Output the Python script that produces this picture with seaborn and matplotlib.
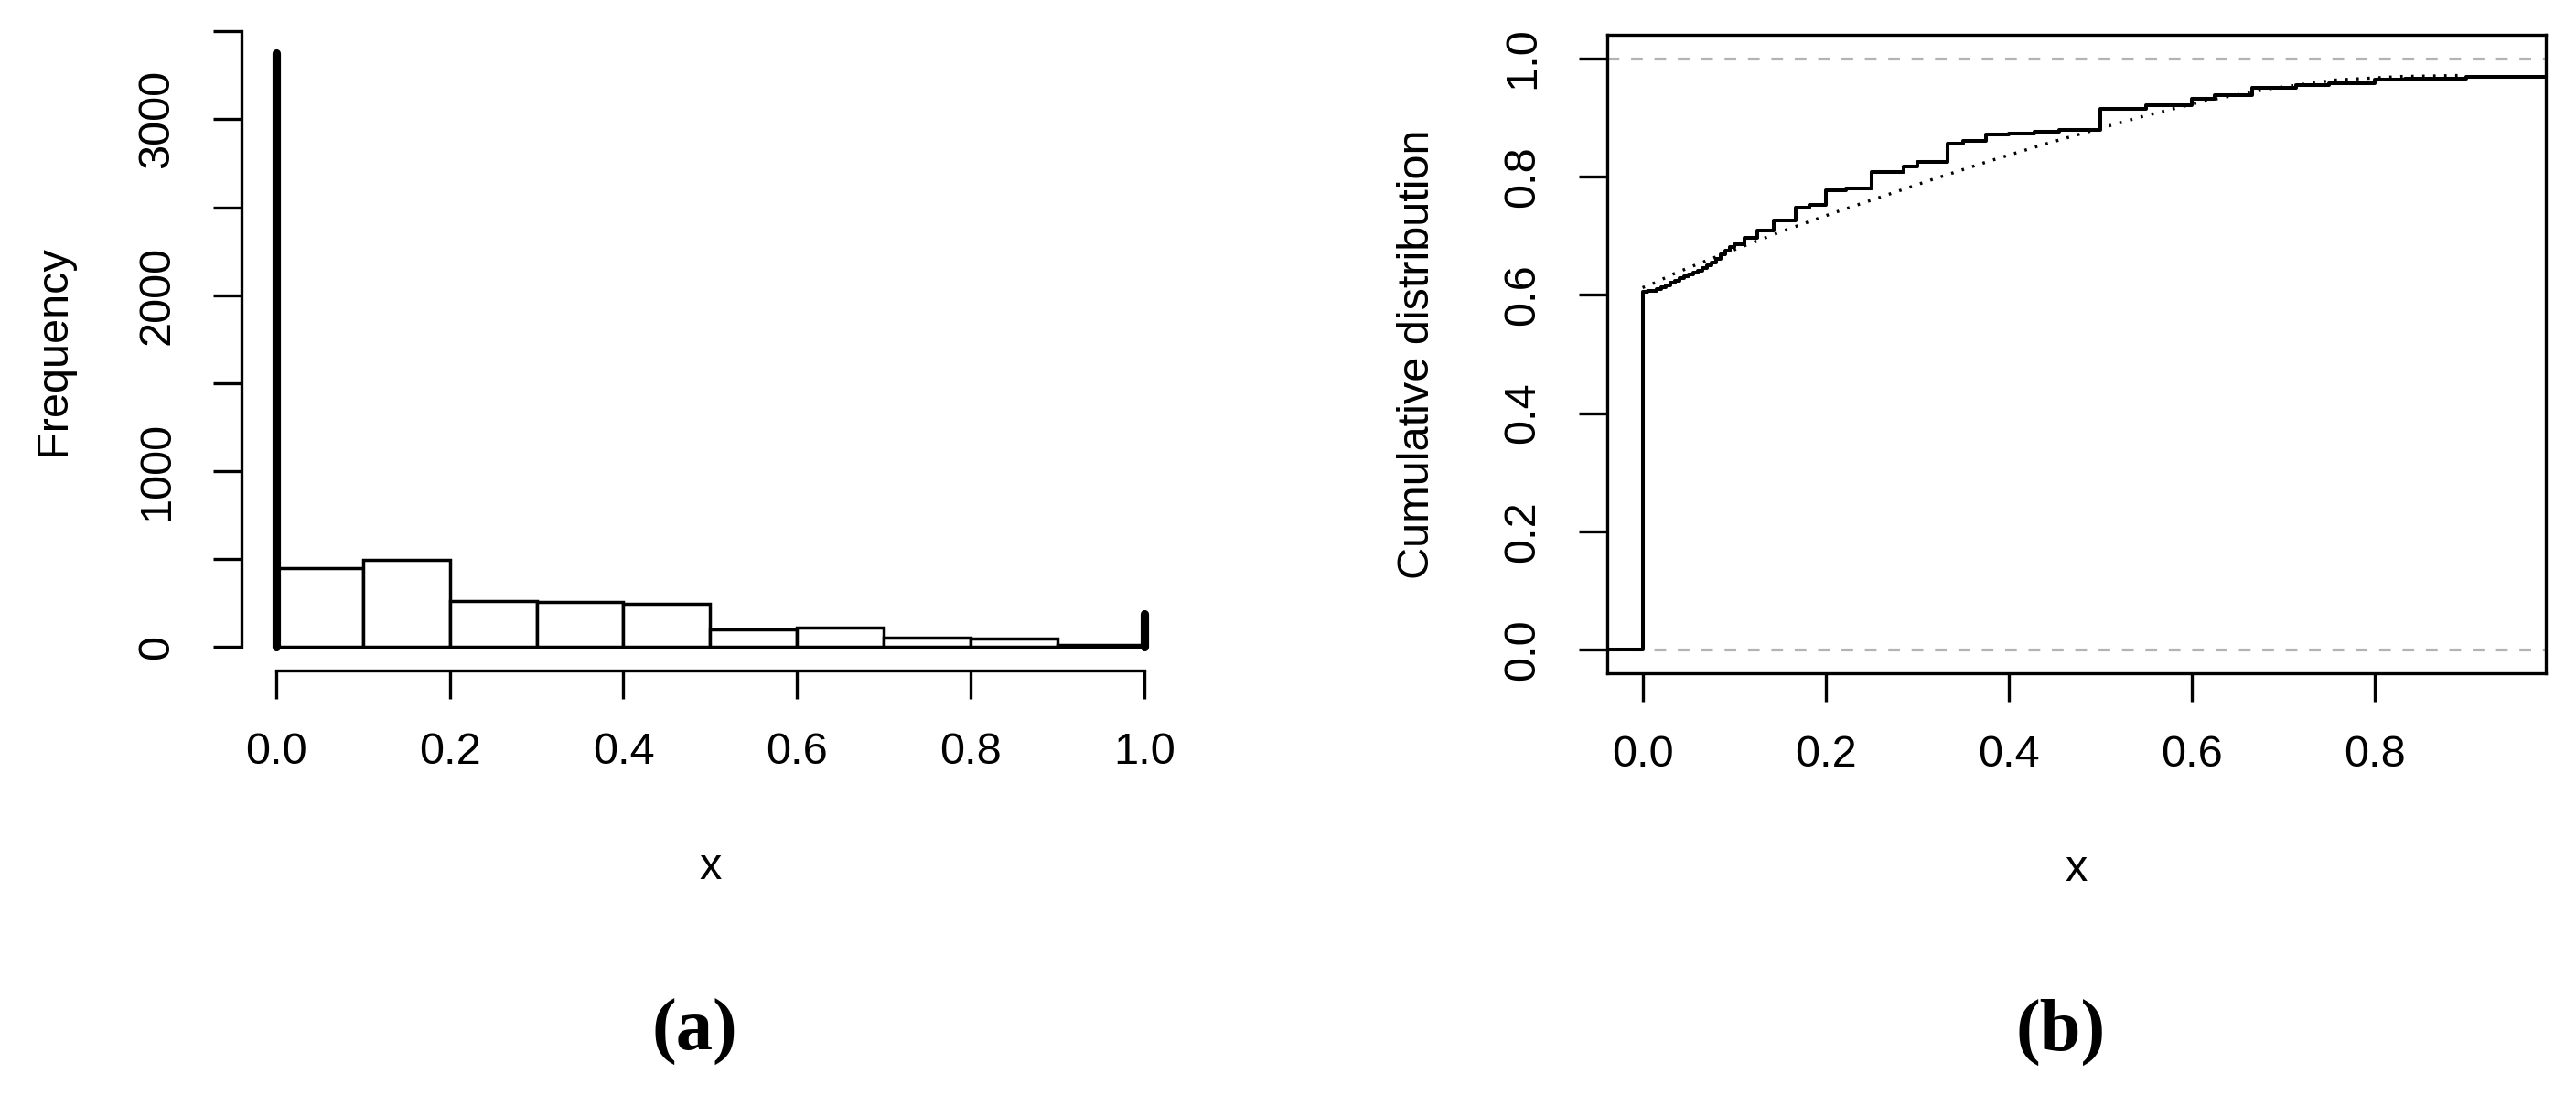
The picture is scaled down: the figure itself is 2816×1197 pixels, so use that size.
import numpy as np
import seaborn as sns
import matplotlib.pyplot as plt

# histogram (panel a): bins of width 0.1 plus point masses at 0 and 1
bin_edges = [0.0, 0.1, 0.2, 0.3, 0.4, 0.5, 0.6, 0.7, 0.8, 0.9, 1.0]
bin_counts = [450, 497, 263, 256, 245, 99, 111, 52, 47, 12]
spike_x = [0.0, 1.0]
spike_counts = [3375, 190]

# empirical cdf (panel b), step positions and values
ecdf_x = [-0.05, 0.0, 0.005, 0.010, 0.015, 0.020, 0.025, 0.030, 0.035, 0.040,
          0.045, 0.050, 0.055, 0.060, 0.065, 0.070, 0.075, 0.080, 0.085, 0.090,
          0.095, 0.100, 0.111, 0.125, 0.143, 0.167, 0.182, 0.200, 0.222, 0.250,
          0.2857, 0.300, 0.3333, 0.350, 0.375, 0.400, 0.4286, 0.455, 0.500,
          0.550, 0.600, 0.625, 0.6667, 0.714, 0.750, 0.800, 0.833, 0.900, 1.0]
ecdf_y = [0.0, 0.605, 0.606, 0.607, 0.609, 0.612, 0.616, 0.620, 0.624, 0.628,
          0.632, 0.635, 0.638, 0.641, 0.645, 0.650, 0.655, 0.661, 0.668, 0.675,
          0.680, 0.685, 0.696, 0.709, 0.726, 0.747, 0.752, 0.776, 0.780, 0.807,
          0.817, 0.824, 0.855, 0.860, 0.871, 0.873, 0.876, 0.879, 0.914,
          0.920, 0.932, 0.937, 0.950, 0.9546, 0.957, 0.964, 0.966, 0.969, 0.970]

# fitted cdf (dotted)
fit_x = [0.0, 0.013, 0.035, 0.059, 0.105, 0.152, 0.210, 0.258, 0.317, 0.377,
         0.436, 0.472, 0.543, 0.613, 0.684, 0.757, 0.829, 0.889, 0.900]
fit_y = [0.612, 0.620, 0.636, 0.651, 0.679, 0.707, 0.739, 0.764, 0.795, 0.825,
         0.853, 0.869, 0.900, 0.927, 0.948, 0.963, 0.969, 0.9706, 0.971]

sns.set_style("ticks")
plt.rcParams["font.family"] = ["Liberation Sans", "DejaVu Sans"]
plt.rcParams.update({"text.color": "black", "axes.labelcolor": "black",
                     "xtick.color": "black", "ytick.color": "black",
                     "axes.edgecolor": "black"})
FS = 17.5
LW = 1.2

fig = plt.figure(figsize=(14.08, 5.985), dpi=200)

# ---- panel (a) ----
ax1 = fig.add_axes([0.09375, 0.3874, 0.3639, 0.5856])
mids = [(bin_edges[i] + bin_edges[i + 1]) / 2 for i in range(len(bin_counts))]
sns.histplot(x=mids, weights=bin_counts, bins=bin_edges, ax=ax1,
             color="white", edgecolor="black", linewidth=1.25, alpha=1)
vl = ax1.vlines(spike_x, 0, spike_counts, color="black", lw=3.3)
vl.set_capstyle("round")
ax1.set_xlim(-0.04, 1.04)
ax1.set_ylim(-135, 3510)
for s in ["top", "right"]:
    ax1.spines[s].set_visible(False)
ax1.spines["left"].set_bounds(0, 3500)
ax1.spines["bottom"].set_bounds(0, 1)
ax1.set_xticks([0, 0.2, 0.4, 0.6, 0.8, 1.0])
ax1.set_xticklabels(["0.0", "0.2", "0.4", "0.6", "0.8", "1.0"])
ax1.set_yticks(range(0, 3501, 500))
ax1.set_yticklabels(["0", "", "1000", "", "2000", "", "3000", ""],
                    rotation=90, va="center")
ax1.set_xlabel("x", va="center", fontsize=FS)
ax1.xaxis.set_label_coords(0.5, -0.3077)
ax1.set_ylabel("Frequency", va="center", fontsize=FS)
ax1.yaxis.set_label_coords(-0.201, 0.5)

# ---- panel (b) ----
ax2 = fig.add_axes([0.6239, 0.3851, 0.3643, 0.5834])
ax2.axhline(0, color="#b3b3b3", lw=1.15, ls=(0, (4, 4)))
ax2.axhline(1, color="#b3b3b3", lw=1.15, ls=(0, (4, 4)))
sns.lineplot(x=ecdf_x, y=ecdf_y, ax=ax2, color="black", lw=1.45,
             drawstyle="steps-post", estimator=None, sort=False)
sns.lineplot(x=fit_x, y=fit_y, ax=ax2, color="black", lw=1.2,
             ls=(0, (0.8, 2.8)), estimator=None, sort=False)
ax2.set_xlim(-0.0387, 0.987)
ax2.set_ylim(-0.04, 1.04)
ax2.set_xticks([0, 0.2, 0.4, 0.6, 0.8])
ax2.set_xticklabels(["0.0", "0.2", "0.4", "0.6", "0.8"])
ax2.set_yticks([0, 0.2, 0.4, 0.6, 0.8, 1.0])
ax2.set_yticklabels(["0.0", "0.2", "0.4", "0.6", "0.8", "1.0"],
                    rotation=90, va="center")
ax2.set_xlabel("x", va="center", fontsize=FS)
ax2.xaxis.set_label_coords(0.5, -0.3066)
ax2.set_ylabel("Cumulative distribution", va="center", fontsize=FS)
ax2.yaxis.set_label_coords(-0.2026, 0.5)

for ax in (ax1, ax2):
    for s in ax.spines.values():
        s.set_linewidth(LW)
        s.set_color("black")
    ax.tick_params(direction="out", length=11, width=LW, labelsize=FS,
                   color="black", labelcolor="black")
    ax.tick_params(axis="x", pad=13)
    ax.tick_params(axis="y", pad=14)
    ax.grid(False)

fig.text(0.2695, 0.0576, "(a)", ha="center", va="center", fontsize=29,
         fontweight="bold", color="black",
         family=["Liberation Serif", "DejaVu Serif"])
fig.text(0.8001, 0.0576, "(b)", ha="center", va="center", fontsize=29,
         fontweight="bold", color="black",
         family=["Liberation Serif", "DejaVu Serif"])

fig.savefig("out.png", dpi=200, facecolor="white")
